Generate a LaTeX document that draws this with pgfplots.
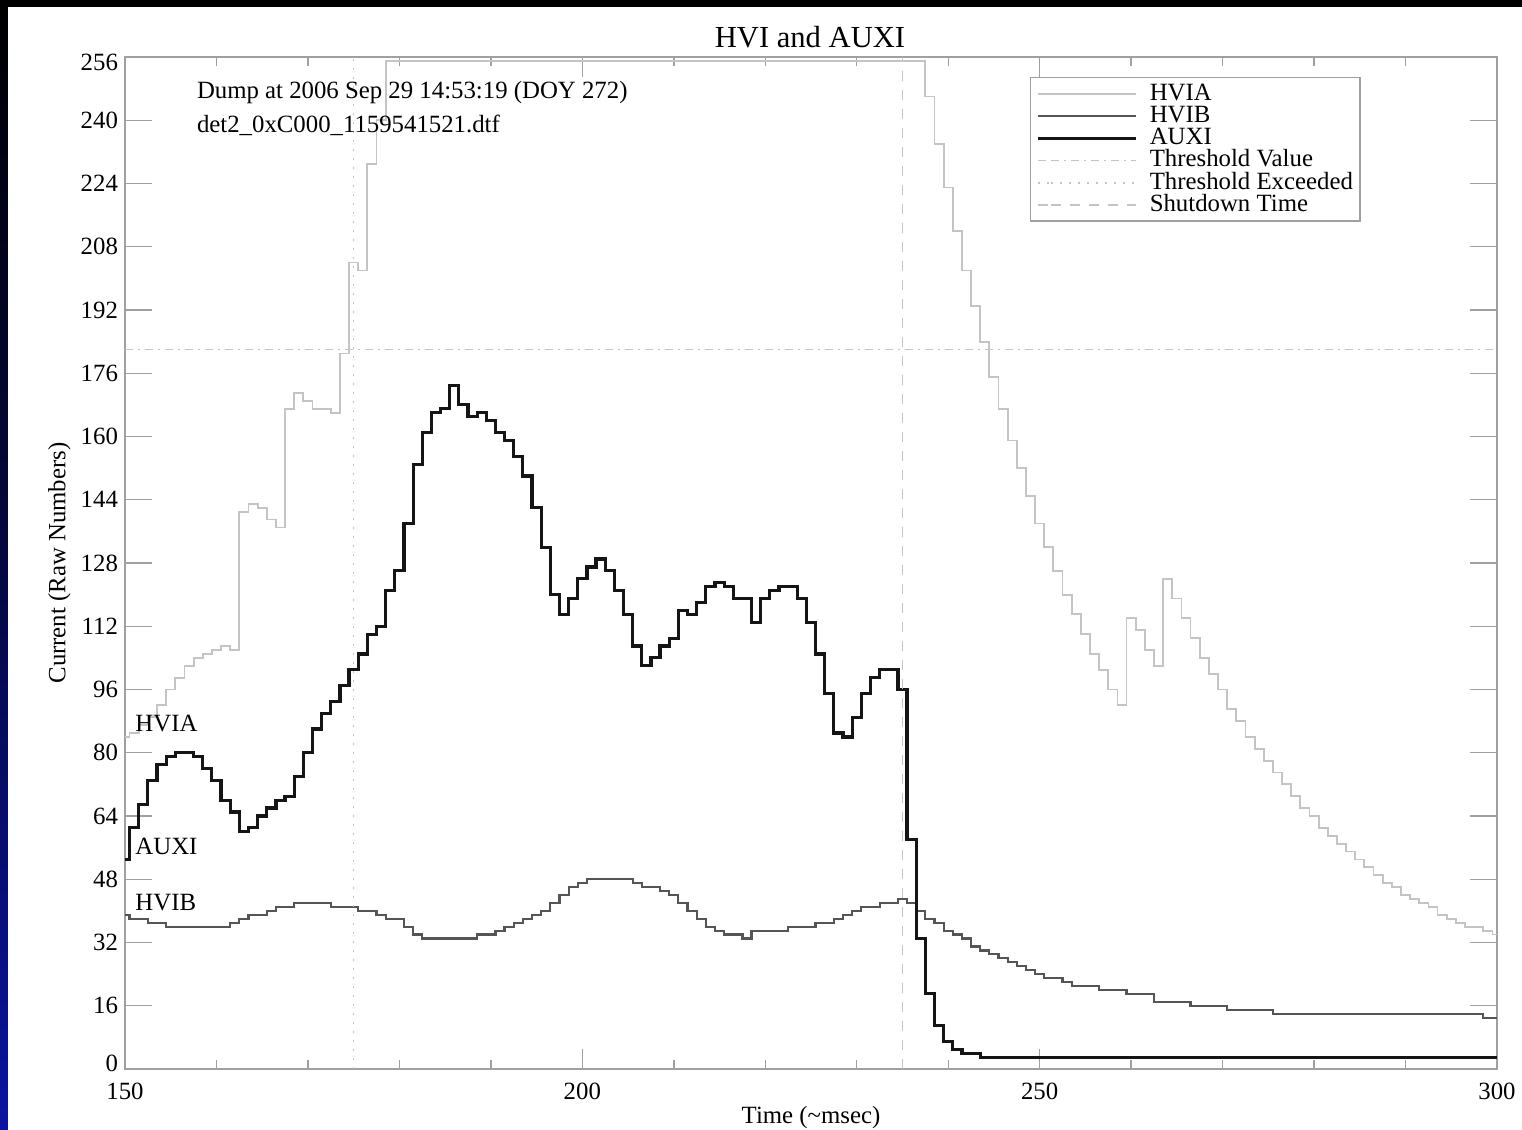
\documentclass[border=0pt]{standalone}
\usepackage{pgfplots}
\pgfplotsset{compat=1.18}
\usepackage{pgfplotstable}
\usepackage{fontspec}
\setmainfont{Liberation Serif}
\definecolor{hvia}{HTML}{C4C4C4}
\definecolor{hvib}{HTML}{555555}
\definecolor{auxi}{HTML}{151515}
\definecolor{thr}{HTML}{C4C4C4}
\definecolor{axgray}{HTML}{A0A0A0}
\definecolor{slideblue}{HTML}{0A14A0}

\pgfplotstableread{
t hvia hvib auxi
150 84 39 53
151 85 38 61
152 87 38 67
153 89 37 73
154 92 37 77
155 96 36 79
156 99 36 80
157 102 36 80
158 104 36 79
159 105 36 76
160 106 36 73
161 107 36 68
162 106 37 65
163 141 38 60
164 143 39 61
165 142 39 64
166 139 40 66
167 137 41 68
168 167 41 69
169 171 42 74
170 169 42 80
171 167 42 86
172 167 42 90
173 166 41 93
174 181 41 97
175 204 41 101
176 202 40 105
177 229 40 110
178 240 39 112
179 255 38 121
180 255 38 126
181 255 36 138
182 255 34 153
183 255 33 161
184 255 33 166
185 255 33 167
186 255 33 173
187 255 33 168
188 255 33 165
189 255 34 166
190 255 34 164
191 255 35 161
192 255 36 159
193 255 37 155
194 255 38 150
195 255 39 142
196 255 40 132
197 255 42 120
198 255 44 115
199 255 46 119
200 255 47 124
201 255 48 127
202 255 48 129
203 255 48 126
204 255 48 121
205 255 48 115
206 255 47 107
207 255 46 102
208 255 46 104
209 255 45 107
210 255 44 109
211 255 42 116
212 255 40 115
213 255 38 118
214 255 36 122
215 255 35 123
216 255 34 122
217 255 34 119
218 255 33 119
219 255 35 113
220 255 35 119
221 255 35 121
222 255 35 122
223 255 36 122
224 255 36 119
225 255 36 113
226 255 37 105
227 255 37 95
228 255 38 85
229 255 39 84
230 255 40 89
231 255 41 95
232 255 41 99
233 255 42 101
234 255 42 101
235 255 43 96
236 255 42 58
237 255 40 33
238 246 38 19
239 234 37 11
240 223 35 7
241 212 34 5
242 202 33 4
243 193 31 4
244 184 30 3
245 175 29 3
246 167 28 3
247 159 27 3
248 152 26 3
249 145 25 3
250 138 24 3
251 132 23 3
252 126 23 3
253 120 22 3
254 115 21 3
255 110 21 3
256 105 21 3
257 101 20 3
258 96 20 3
259 92 20 3
260 114 19 3
261 111 19 3
262 106 19 3
263 102 17 3
264 124 17 3
265 119 17 3
266 114 17 3
267 109 16 3
268 104 16 3
269 100 16 3
270 96 16 3
271 91 15 3
272 88 15 3
273 84 15 3
274 81 15 3
275 78 15 3
276 75 14 3
277 72 14 3
278 69 14 3
279 66 14 3
280 64 14 3
281 61 14 3
282 59 14 3
283 57 14 3
284 55 14 3
285 53 14 3
286 51 14 3
287 49 14 3
288 47 14 3
289 46 14 3
290 44 14 3
291 43 14 3
292 42 14 3
293 41 14 3
294 39 14 3
295 38 14 3
296 37 14 3
297 36 14 3
298 36 14 3
299 35 13 3
300 34 13 3
}\datatable

\pgfplotstableread{
x y
150 182
300 182
}\thrvalue
\pgfplotstableread{
x y
175 0
175 256
}\threxceed
\pgfplotstableread{
x y
235 0
235 256
}\shutdown

\newcommand{\txt}{\fontsize{12.4}{14}\selectfont}

\begin{document}
\begin{tikzpicture}[x=1pt,y=1pt]
\path[use as bounding box] (0pt,0pt) rectangle (761pt,565pt);
\fill[black] (0pt,0pt) rectangle (761pt,565pt);
\shade[top color=black, bottom color=slideblue, middle color=black!60!slideblue] (0pt,0pt) rectangle (4pt,565pt);
\fill[white] (4pt,0pt) rectangle (761pt,561.5pt);
\node[font=\fontsize{15.3}{17}\selectfont, anchor=base] at (405pt,541pt) {HVI and AUXI};
\begin{axis}[
  at={(62.5pt,30.5pt)}, anchor=south west,
  scale only axis, width=686pt, height=506pt,
  xmin=150, xmax=300, ymin=0, ymax=256,
  xtick={150,200,250,300},
  minor x tick num=4,
  ytick={0,16,...,256},
  tick align=inside,
  tick pos=both,
  axis line style={axgray, line width=0.7pt},
  every tick/.style={axgray, line width=0.7pt},
  xtick style={/pgfplots/major tick length=10pt, /pgfplots/minor tick length=4.7pt},
  ytick style={/pgfplots/major tick length=13.5pt},
  tick label style={font=\txt, black},
  /pgf/number format/assume math mode=true,
  /pgf/number format/1000 sep={},
  xticklabel style={yshift=-3.5pt},
  yticklabel={\ifnum\ticknum=0 \raisebox{-1.2pt}[0pt][0pt]{\pgfmathprintnumber{\tick}}\else\ifnum\ticknum=16 \raisebox{-6.7pt}[0pt][0pt]{\pgfmathprintnumber{\tick}}\else\pgfmathprintnumber{\tick}\fi\fi},
  xlabel={Time (\textasciitilde msec)},
  ylabel={Current (Raw Numbers)},
  x label style={font=\txt, at={(axis description cs:0.5,-0.0535)}, anchor=base},
  y label style={font=\txt, at={(axis description cs:-0.0435,0.5)}, anchor=base, rotate=0},
  legend style={at={(0.6596,0.980)}, anchor=north west, draw=axgray, line width=0.6pt,
    fill=white, font=\txt, inner xsep=3pt, inner ysep=2.5pt, row sep=0pt,
    /tikz/column sep=5.5pt,
    nodes={inner sep=0.5pt, text height=8.2pt, text depth=1.9pt}},
  legend cell align=left,
  legend image code/.code={\path (0pt,0pt) -- (6.5pt,0pt); \draw[#1] (6.5pt,0pt) -- (49pt,0pt);},
  clip=true,
]
\addplot[const plot mark mid, hvia, line width=0.9pt] table[x=t, y=hvia] {\datatable};
\addlegendentry{HVIA}
\addplot[const plot mark mid, hvib, line width=1.1pt] table[x=t, y=hvib] {\datatable};
\addlegendentry{HVIB}
\addplot[const plot mark mid, auxi, line width=1.6pt] table[x=t, y=auxi] {\datatable};
\addlegendentry{AUXI}
\addplot[thr, line width=0.8pt, dash pattern=on 4pt off 2.5pt on 1pt off 2.5pt] table {\thrvalue};
\addlegendentry{Threshold Value}
\addplot[thr, line width=0.8pt, dash pattern=on 1pt off 3.5pt] table {\threxceed};
\addlegendentry{Threshold Exceeded}
\addplot[thr, line width=0.8pt, dash pattern=on 5pt off 4.5pt] table {\shutdown};
\addlegendentry{Shutdown Time}

\node[font=\txt, anchor=west] at (axis cs:157.1,246.9) {Dump at 2006 Sep 29 14:53:19 (DOY 272)};
\node[font=\txt, anchor=west] at (axis cs:157.1,238.6) {det2\_0xC000\_1159541521.dtf};
\node[font=\txt, anchor=west, inner sep=0pt] at (axis cs:151.1,87.3) {HVIA};
\node[font=\txt, anchor=west, inner sep=0pt] at (axis cs:151.1,56.2) {AUXI};
\node[font=\txt, anchor=west, inner sep=0pt] at (axis cs:151.1,42.2) {HVIB};
\end{axis}
\end{tikzpicture}
\end{document}
